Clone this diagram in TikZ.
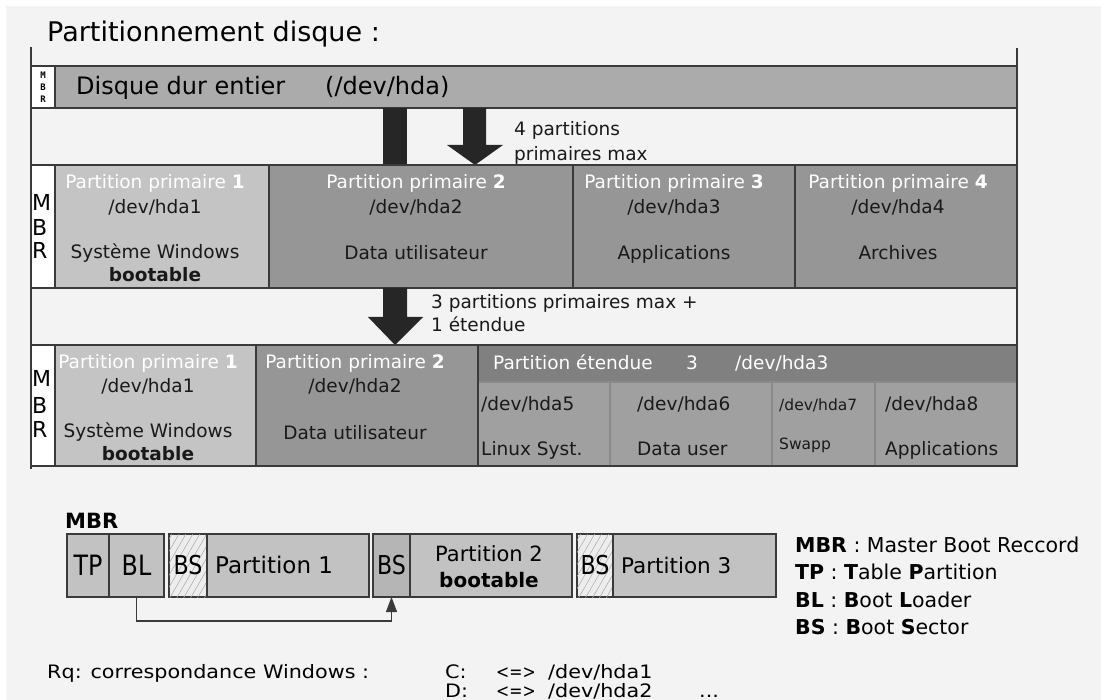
\documentclass[tikz,border=0pt]{standalone}
\usepackage{fontspec}
\setmainfont{DejaVu Sans}
\newfontfamily\monof{DejaVu Sans Mono}
\newfontfamily\narrowf[FakeStretch=0.85]{DejaVu Sans}
\newfontfamily\rqf[FakeStretch=1.12]{DejaVu Sans}
\usetikzlibrary{arrows.meta,patterns.meta}
\definecolor{bg}{HTML}{F3F3F3}
\definecolor{lc}{HTML}{3A3A3A}
\definecolor{rowA}{HTML}{ABABAB}
\definecolor{lg}{HTML}{C4C4C4}
\definecolor{mg}{HTML}{969696}
\definecolor{dg}{HTML}{808080}
\definecolor{sc}{HTML}{A0A0A0}
\definecolor{scl}{HTML}{8A8A8A}
\definecolor{ar}{HTML}{262626}
\definecolor{bx}{HTML}{C2C2C2}
\definecolor{bsd}{HTML}{B5B5B5}
\definecolor{hbg}{HTML}{EDEDED}
\definecolor{hc}{HTML}{A8A8A8}
\newcommand\fsz[1]{\fontsize{#1}{#1}\selectfont}
\tikzset{
  cell/.style={draw=lc, line width=1.2pt, anchor=north west, inner sep=0pt, outer sep=0pt},
  sub/.style={cell, draw=scl, fill=sc, line width=1.6pt},
  frame/.style={draw=lc, line width=1.2pt},
  dn/.style={yshift=-4.5pt},
  t/.style={inner sep=0pt, font=\fsz{18.5}, text=black!90, dn},
  tw/.style={t, text=white},
  tl/.style={t, anchor=mid west},
  mb/.style={inner sep=0pt, anchor=mid west, font=\fsz{22}, dn},
  bcell/.style={draw=lc, line width=1.2pt, fill=bx, anchor=north west, inner sep=0pt, outer sep=0pt, minimum height=63},
  hatch/.style={bcell, fill=hbg, postaction={pattern={Lines[angle=60,distance=6pt,line width=0.5pt]}, pattern color=hc}},
  arr/.style={fill=ar},
  conn/.style={draw=lc, line width=1.2pt, -{Triangle[length=15pt,width=11pt]}},
  leg/.style={inner sep=0pt, anchor=mid west, font=\fsz{20.5}, dn},
  rq/.style={inner sep=0pt, anchor=base west, font=\rqf\fsz{18.5}},
  rqn/.style={inner sep=0pt, anchor=base west, font=\narrowf\fsz{18.5}},
}
\begin{document}
\begin{tikzpicture}[x=1pt,y=-1pt]
\useasboundingbox (0,0) rectangle (1101,700);
\fill[bg] (6,6) rectangle (1101,700);

% title
\node[inner sep=0pt, anchor=mid west, font=\fsz{27}, dn] (title) at (47,34) {Partitionnement disque :};

% frame lines
\coordinate (fl1) at (31,47); \coordinate (fl2) at (31,469);
\coordinate (fr1) at (1017,48); \coordinate (fr2) at (1017,466);
\draw[frame] (fl1) -- (fl2);
\draw[frame] (fr1) -- (fr2);

% row 1
\node[cell, fill=white, minimum width=24, minimum height=42] (mbrA) at (31,66) {};
\node[cell, fill=rowA, minimum width=962, minimum height=42] (disk) at (55,66) {};
\node[inner sep=0pt, align=center, font=\monof\bfseries\fontsize{9}{12}\selectfont] (mbrAt) at (mbrA.center) {M\\B\\R};
\node[inner sep=0pt, anchor=mid west, font=\fsz{24}, dn] (diskt) at (76,87) {Disque dur entier};
\node[inner sep=0pt, anchor=mid west, font=\fsz{24}, dn] (diskdev) at (325,87) {(/dev/hda)};

% arrows row1 -> row2
\fill[arr] (383,108) rectangle (407,165);
\fill[arr] (463,108) -- (486,108) -- (486,145) -- (503,145) -- (475,165) -- (447,145) -- (463,145) -- cycle;
\node[tl] (n4a) at (514,128) {4 partitions};
\node[tl] (n4b) at (514,153) {primaires max};

% row 2
\node[cell, fill=white, minimum width=24, minimum height=123] (mbrB) at (31,165) {};
\node[cell, fill=lg, minimum width=214, minimum height=123] (p21) at (55,165) {};
\node[cell, fill=mg, minimum width=304, minimum height=123] (p22) at (269,165) {};
\node[cell, fill=mg, minimum width=222, minimum height=123] (p23) at (573,165) {};
\node[cell, fill=mg, minimum width=222, minimum height=123] (p24) at (795,165) {};
\node[mb] (mB1) at (32,203) {M};
\node[mb] (mB2) at (32,228) {B};
\node[mb] (mB3) at (32,251) {R};
\node[tw, anchor=mid] (p21a) at (155,181) {Partition primaire \textbf{1}};
\node[t, anchor=mid] (p21b) at (155,206) {/dev/hda1};
\node[t, anchor=mid] (p21c) at (155,251) {Système Windows};
\node[t, anchor=mid] (p21d) at (155,274) {\textbf{bootable}};
\node[tw, anchor=mid] (p22a) at (416,181) {Partition primaire \textbf{2}};
\node[t, anchor=mid] (p22b) at (416,206) {/dev/hda2};
\node[t, anchor=mid] (p22c) at (416,252) {Data utilisateur};
\node[tw, anchor=mid] (p23a) at (674,181) {Partition primaire \textbf{3}};
\node[t, anchor=mid] (p23b) at (674,206) {/dev/hda3};
\node[t, anchor=mid] (p23c) at (674,252) {Applications};
\node[tw, anchor=mid] (p24a) at (898,181) {Partition primaire \textbf{4}};
\node[t, anchor=mid] (p24b) at (898,206) {/dev/hda4};
\node[t, anchor=mid] (p24c) at (898,252) {Archives};

% arrow row2 -> row3
\fill[arr] (383,288) -- (407,288) -- (407,317) -- (423,317) -- (395,345) -- (368,317) -- (383,317) -- cycle;
\node[tl] (n3a) at (431,301) {3 partitions primaires max +};
\node[tl] (n3b) at (431,324) {1 étendue};

% row 3
\node[cell, fill=white, minimum width=24, minimum height=121] (mbrC) at (31,345) {};
\node[cell, fill=lg, minimum width=201, minimum height=121] (p31) at (55,345) {};
\node[cell, fill=mg, minimum width=222, minimum height=121] (p32) at (256,345) {};
\node[cell, fill=dg, minimum width=539, minimum height=37] (ext) at (478,345) {};
\node[sub, minimum width=132, minimum height=84] (s5) at (478,382) {};
\node[sub, minimum width=162, minimum height=84] (s6) at (610,382) {};
\node[sub, minimum width=103, minimum height=84] (s7) at (772,382) {};
\node[sub, minimum width=142, minimum height=84] (s8) at (875,382) {};
\draw[draw=lc, line width=1.2pt] (ext.north west) -- (s5.south west) -- (s8.south east) -- (ext.north east);
\node[mb] (mC1) at (32,379) {M};
\node[mb] (mC2) at (32,406) {B};
\node[mb] (mC3) at (32,430) {R};
\node[tw, anchor=mid] (p31a) at (148,361) {Partition primaire \textbf{1}};
\node[t, anchor=mid] (p31b) at (148,385) {/dev/hda1};
\node[t, anchor=mid] (p31c) at (148,430) {Système Windows};
\node[t, anchor=mid] (p31d) at (148,453) {\textbf{bootable}};
\node[tw, anchor=mid] (p32a) at (355,361) {Partition primaire \textbf{2}};
\node[t, anchor=mid] (p32b) at (355,385) {/dev/hda2};
\node[t, anchor=mid] (p32c) at (355,432) {Data utilisateur};
\node[tw, anchor=mid west] (exta) at (493,362) {Partition étendue};
\node[tw, anchor=mid west] (extb) at (686,362) {3};
\node[tw, anchor=mid west] (extc) at (735,362) {/dev/hda3};
\node[tl] (s5a) at (481,403) {/dev/hda5};
\node[tl] (s5b) at (481,448) {Linux Syst.};
\node[tl] (s6a) at (637,403) {/dev/hda6};
\node[tl] (s6b) at (637,448) {Data user};
\node[tl, font=\fsz{15.5}] (s7a) at (779,403) {/dev/hda7};
\node[tl, font=\fsz{15.5}] (s7b) at (779,442) {Swapp};
\node[tl] (s8a) at (885,403) {/dev/hda8};
\node[tl] (s8b) at (885,448) {Applications};

% bottom MBR diagram
\node[inner sep=0pt, anchor=mid west, font=\fsz{21}\bfseries, dn] (mbrlab) at (65,521) {MBR};
\node[bcell, minimum width=42] (tp) at (67,534) {};
\node[bcell, minimum width=55] (bl) at (109,534) {};
\node[hatch, minimum width=38] (bs1) at (169,534) {};
\node[bcell, minimum width=162] (pa1) at (207,534) {};
\node[bcell, fill=bsd, minimum width=37] (bs2) at (373,534) {};
\node[bcell, minimum width=162] (pa2) at (410,534) {};
\node[hatch, minimum width=36] (bs3) at (577,534) {};
\node[bcell, minimum width=163] (pa3) at (613,534) {};
\node[inner sep=0pt, font=\narrowf\fsz{28}] (tpt) at (tp.center) {TP};
\node[inner sep=0pt, font=\narrowf\fsz{28}] (blt) at (bl.center) {BL};
\node[inner sep=0pt, font=\narrowf\fsz{26}] (bs1t) at (bs1.center) {BS};
\node[inner sep=0pt, font=\narrowf\fsz{26}] (bs2t) at (bs2.center) {BS};
\node[inner sep=0pt, font=\narrowf\fsz{26}] (bs3t) at (bs3.center) {BS};
\node[inner sep=0pt, anchor=mid west, font=\fsz{23}, dn] (pa1t) at (215,566) {Partition 1};
\node[inner sep=0pt, anchor=mid, font=\fsz{21}, dn] (pa2t) at (489,554) {Partition 2};
\node[inner sep=0pt, anchor=mid, font=\fsz{20}\bfseries, dn] (pa2b) at (489,580) {bootable};
\node[inner sep=0pt, anchor=mid west, font=\fsz{21.5}, dn] (pa3t) at (621,566) {Partition 3};
\draw[conn] (bl.south) -- ++(0,24) -| (bs2.south);

% legend
\node[leg] (lg1) at (795,545) {\textbf{MBR} : Master Boot Reccord};
\node[leg] (lg2) at (795,572) {\textbf{TP} : \textbf{T}able \textbf{P}artition};
\node[leg] (lg3) at (795,600) {\textbf{BL} : \textbf{B}oot \textbf{L}oader};
\node[leg] (lg4) at (795,627) {\textbf{BS} : \textbf{B}oot \textbf{S}ector};

% remark
\node[rq] (rq) at (47,678) {Rq: correspondance Windows :};
\node[rq] (rc1) at (445,678) {C:};
\node[rqn] (rc2) at (496,678) {<=>};
\node[rq] (rc3) at (548,678) {/dev/hda1};
\node[rq] (rd1) at (445,697) {D:};
\node[rqn] (rd2) at (496,697) {<=>};
\node[rq] (rd3) at (548,697) {/dev/hda2};
\node[rq] (rd4) at (699,697) {...};
\end{tikzpicture}
\end{document}
